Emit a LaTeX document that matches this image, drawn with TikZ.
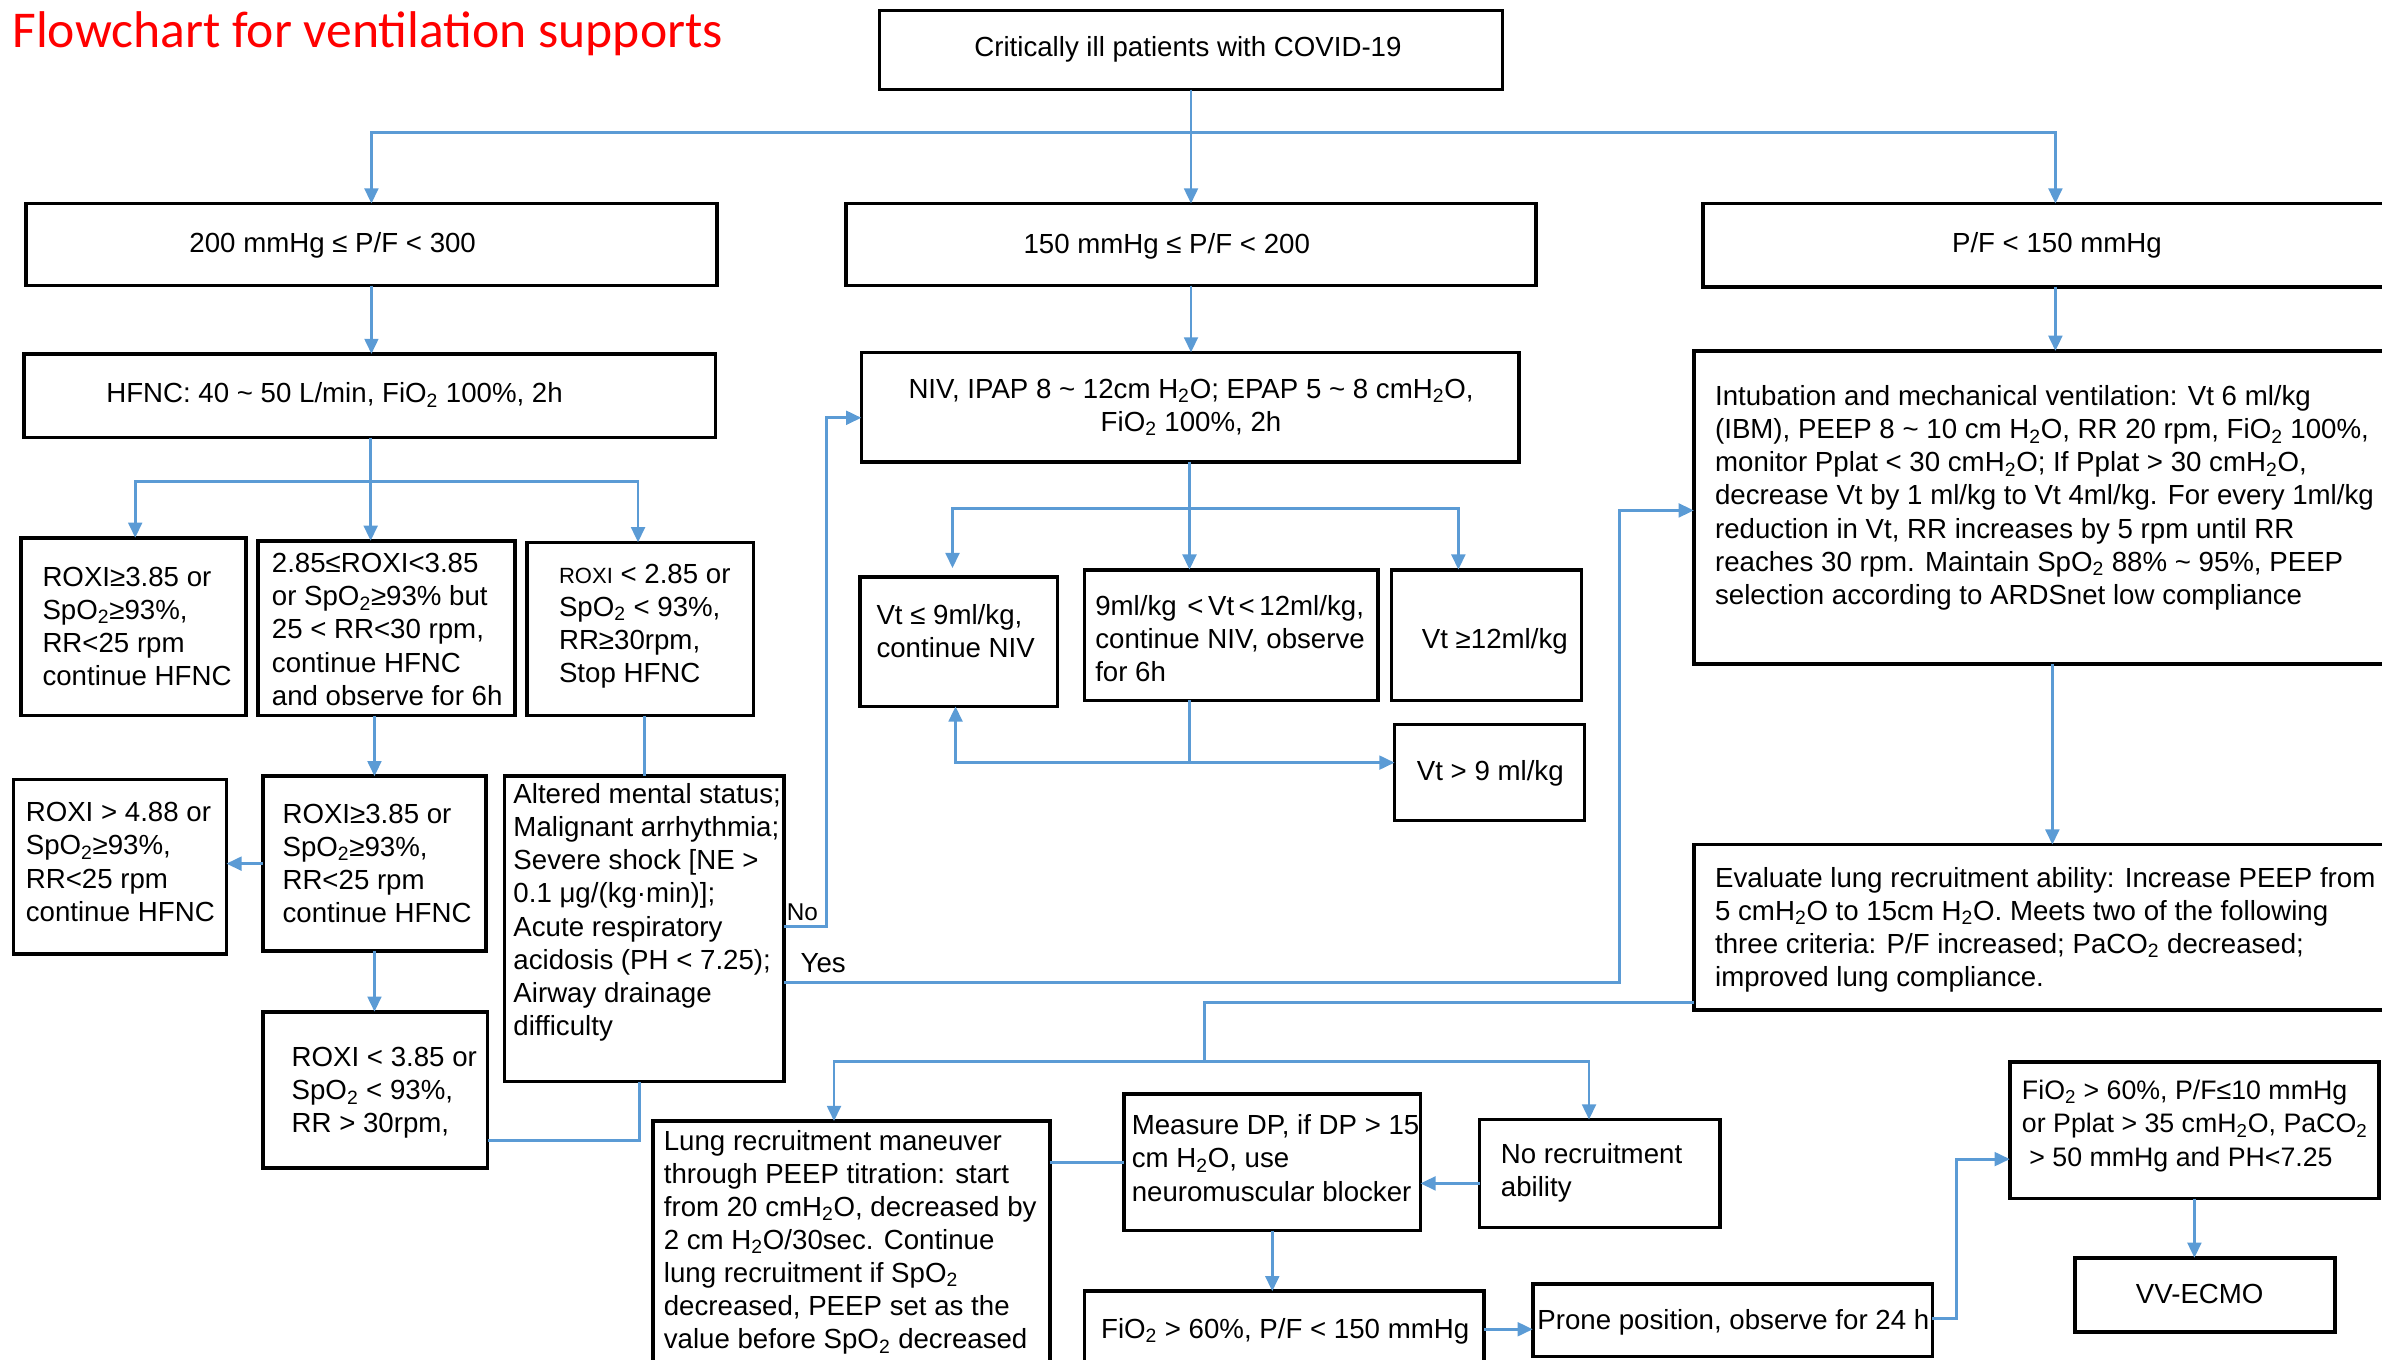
\documentclass[tikz,border=0pt]{standalone}
\usepackage{fontspec}
\setmainfont{Liberation Sans}
\newfontfamily\titlefont{Carlito}
\usetikzlibrary{arrows.meta}
\definecolor{lblue}{HTML}{5B9BD5}
\newcommand\subt[1]{\textsubscript{#1}}
\newcommand\tld{\textasciitilde}
\newcommand\bx[5]{\node[box,anchor=north west,minimum width={(#4)-(#2)},minimum height={(#5)-(#3)}] (#1) at (#2,#3) {};}
\newcommand\tx[4]{\node[txt,anchor=north west] (#1) at (#2,#3-15.26) {\strut #4};}
\newcommand\tc[4]{\node[txt,anchor=base] (#1) at (#2,#3) {#4};}
\begin{document}
\begin{tikzpicture}[x=1pt,y=-1pt,
 box/.style={draw=black,line width=2.4pt,inner sep=0pt,outer sep=0pt,rectangle},
 txt/.style={inner sep=0pt,outer sep=0pt,align=left,font=\fontsize{18.2}{21.8}\selectfont},
 ln/.style={draw=lblue,line width=1.9pt},
 arr/.style={ln,-{Triangle[length=10pt,width=9pt]}},
]
\useasboundingbox (0,0) rectangle (1568,895);
\clip (0,0) rectangle (1568,895);

% title
\node[anchor=base west,inner sep=0pt,text=red,font=\titlefont\fontsize{34}{40}\selectfont] (title) at (8,31) {Flowchart for ventilation supports};

% boxes
\bx{A}{579}{7}{989}{59}
\bx{B1}{17}{134}{472}{188}
\bx{B2}{557}{134}{1011}{188}
\bx{B3}{1121}{134}{1585}{189}
\bx{C1}{16}{233}{471}{288}
\bx{H}{567}{232}{1000}{304}
\bx{J}{1115}{231}{1591}{437}
\bx{D1}{14}{354}{162}{471}
\bx{D2}{170}{356}{339}{471}
\bx{D3}{347}{357}{496}{471}
\bx{I1}{566}{380}{696}{465}
\bx{I2}{714}{375}{907}{461}
\bx{I3}{916}{375}{1041}{461}
\bx{I4}{918}{477}{1043}{540}
\bx{E1}{9}{513}{149}{628}
\bx{E2}{173}{511}{320}{626}
\bx{F}{332}{511}{516}{712}
\bx{K}{1115}{556}{1587}{665}
\bx{G}{173}{666}{321}{769}
\bx{L}{430}{738}{691}{910}
\bx{M}{740}{720}{935}{810}
\bx{N}{974}{737}{1132}{808}
\bx{Q}{1323}{699}{1566}{789}
\bx{O}{714}{850}{977}{905}
\bx{P}{1009}{845}{1272}{893}
\bx{R}{1366}{828}{1537}{877}

% texts
\tc{At}{782}{37}{Critically ill patients with COVID-19}
\tc{B1t}{219}{166}{200 mmHg ≤ P/F < 300}
\tc{B2t}{768}{167}{150 mmHg ≤ P/F < 200}
\tc{B3t}{1354}{166}{P/F < 150 mmHg}
\node[txt,anchor=base west] (C1t) at (70,265) {HFNC: 40 \tld\ 50 L/min, FiO\subt{2} 100\%, 2h};
\node[txt,anchor=north,align=center] (Ht) at (784,262-15.26) {\strut NIV, IPAP 8 \tld\ 12cm H\subt{2}O; EPAP 5 \tld\ 8 cmH\subt{2}O,\\FiO\subt{2} 100\%, 2h};
\tx{D1t}{28}{386}{ROXI≥3.85 or\\SpO\subt{2}≥93\%,\\RR<25 rpm\\continue HFNC}
\tx{D2t}{179}{377}{2.85≤ROXI<3.85\\or SpO\subt{2}≥93\% but\\25 < RR<30 rpm,\\continue HFNC\\and observe for 6h}
\tx{D3t}{368}{384}{{\fontsize{14.5}{21.8}\selectfont ROXI} < 2.85 or\\SpO\subt{2} < 93\%,\\RR≥30rpm,\\Stop HFNC}
\tx{E1t}{17}{541}{ROXI > 4.88 or\\SpO\subt{2}≥93\%,\\RR<25 rpm\\continue HFNC}
\tx{E2t}{186}{542}{ROXI≥3.85 or\\SpO\subt{2}≥93\%,\\RR<25 rpm\\continue HFNC}
\tx{Ft}{338}{529}{Altered mental status;\\Malignant arrhythmia;\\Severe shock [NE >\\0.1 μg/(kg·min)];\\Acute respiratory\\acidosis (PH < 7.25);\\Airway drainage\\difficulty}
\tx{Gt}{192}{702}{ROXI < 3.85 or\\SpO\subt{2} < 93\%,\\RR > 30rpm,}
\tx{I1t}{577}{411}{Vt ≤ 9ml/kg,\\continue NIV}
\tx{I2t}{721}{405}{9ml/kg\hspace{7pt}<\hspace{3pt}Vt\hspace{3pt}<\hspace{3pt}12ml/kg,\\continue NIV, observe\\for 6h}
\tc{I3t}{984}{427}{Vt ≥12ml/kg}
\tc{I4t}{981}{514}{Vt > 9 ml/kg}
\tx{Jt}{1129}{267}{Intubation and mechanical ventilation: Vt 6 ml/kg\\(IBM), PEEP 8 \tld\ 10 cm H\subt{2}O, RR 20 rpm, FiO\subt{2} 100\%,\\monitor Pplat < 30 cmH\subt{2}O; If Pplat > 30 cmH\subt{2}O,\\decrease Vt by 1 ml/kg to Vt 4ml/kg. For every 1ml/kg\\reduction in Vt, RR increases by 5 rpm until RR\\reaches 30 rpm. Maintain SpO\subt{2} 88\% \tld\ 95\%, PEEP\\selection according to ARDSnet low compliance}
\tx{Kt}{1129}{584}{Evaluate lung recruitment ability: Increase PEEP from\\5 cmH\subt{2}O to 15cm H\subt{2}O. Meets two of the following\\three criteria: P/F increased; PaCO\subt{2} decreased;\\improved lung compliance.}
\tx{Lt}{437}{757}{Lung recruitment maneuver\\through PEEP titration: start\\from 20 cmH\subt{2}O, decreased by\\2 cm H\subt{2}O/30sec. Continue\\lung recruitment if SpO\subt{2}\\decreased, PEEP set as the\\value before SpO\subt{2} decreased}
\tx{Mt}{745}{747}{Measure DP, if DP > 15\\cm H\subt{2}O, use\\neuromuscular blocker}
\tx{Nt}{988}{766}{No recruitment\\ability}
\tc{Ot}{846}{881}{FiO\subt{2} > 60\%, P/F < 150 mmHg}
\node[txt,anchor=base west] (Pt) at (1012,875) {Prone position, observe for 24 h};
\node[txt,anchor=north west,font=\fontsize{17.6}{21.8}\selectfont] (Qt) at (1331,724-15.26) {\strut FiO\subt{2} > 60\%, P/F≤10 mmHg\\or Pplat > 35 cmH\subt{2}O, PaCO\subt{2}\\\ > 50 mmHg and PH<7.25};
\tc{Rt}{1448}{858}{VV-ECMO}
\node[txt,anchor=base west,font=\fontsize{16}{19}\selectfont] (nolab) at (518,606) {No};
\node[txt,anchor=base west] (yeslab) at (527,640) {Yes};

% connectors
\coordinate (bus1) at (784,87);
\draw[ln] (A.south) -- (bus1);
\draw[arr] (bus1) -| (B1.north);
\draw[arr] (bus1) -| (B3.north);
\draw[arr] (bus1) -- (B2.north);
\draw[arr] (B1.south) -- (B1.south |- C1.north);
\coordinate (bus2) at (244,317);
\coordinate (d1a) at (89,317);
\coordinate (d3a) at (420,317);
\draw[ln] (bus2 |- C1.south) -- (bus2);
\draw[arr] (bus2) -- (d1a) -- (d1a |- D1.north);
\draw[arr] (bus2) -- (d3a) -- (d3a |- D3.north);
\draw[arr] (bus2) -- (bus2 |- D2.north);
\draw[arr] (E2.north |- D2.south) -- (E2.north);
\draw[arr] (E2.west) -- (E1.east |- E2.west);
\draw[ln] (F.north |- D3.south) -- (F.north);
\draw[arr] (E2.south) -- (E2.south |- G.north);
\coordinate (gf) at (421,751);
\draw[ln] (G.east |- gf) -- (gf) -- (gf |- F.south);
% No / Yes
\coordinate (no1) at (544,610);
\coordinate (no2) at (544,275);
\draw[arr] (F.east |- no1) -- (no1) -- (no2) -- (H.west |- no2);
\coordinate (ye1) at (1066,647);
\coordinate (ye2) at (1066,336);
\draw[arr] (F.east |- ye1) -- (ye1) -- (ye2) -- (J.west |- ye2);
% middle column
\draw[arr] (B2.south) -- (B2.south |- H.north);
\coordinate (bus3) at (783,335);
\coordinate (i1a) at (627,335);
\coordinate (i3a) at (960,335);
\draw[ln] (bus3 |- H.south) -- (bus3);
\draw[arr,shorten >=6pt] (bus3) -- (i1a) -- (i1a |- I1.north);
\draw[arr] (bus3) -- (i3a) -- (i3a |- I3.north);
\draw[arr] (bus3) -- (bus3 |- I2.north);
\coordinate (i2b) at (783,502);
\coordinate (i1b) at (629,502);
\draw[ln] (i2b |- I2.south) -- (i2b);
\draw[arr] (i2b) -- (i1b) -- (i1b |- I1.south);
\draw[arr] (i2b) -- (I4.west |- i2b);
% right column
\draw[arr] (B3.south) -- (B3.south |- J.north);
\draw[arr] (K.north |- J.south) -- (K.north);
\coordinate (k1) at (793,660);
\coordinate (bus4) at (793,699);
\coordinate (l1) at (549,699);
\coordinate (n1) at (1046,699);
\draw[ln] (K.west |- k1) -- (k1) -- (bus4);
\draw[arr] (bus4) -- (l1) -- (l1 |- L.north);
\draw[arr] (bus4) -- (n1) -- (n1 |- N.north);
\draw[ln] (L.east |- M.west) -- (M.west);
\coordinate (nm) at (974,779);
\draw[arr] (N.west |- nm) -- (M.east |- nm);
\draw[arr] (M.south) -- (M.south |- O.north);
\coordinate (op) at (977,875);
\draw[arr] (O.east |- op) -- (P.west |- op);
\coordinate (pq1) at (1288,868);
\coordinate (pq2) at (1288,763);
\draw[arr] (P.east |- pq1) -- (pq1) -- (pq2) -- (Q.west |- pq2);
\draw[arr] (Q.south) -- (Q.south |- R.north);
\end{tikzpicture}
\end{document}
